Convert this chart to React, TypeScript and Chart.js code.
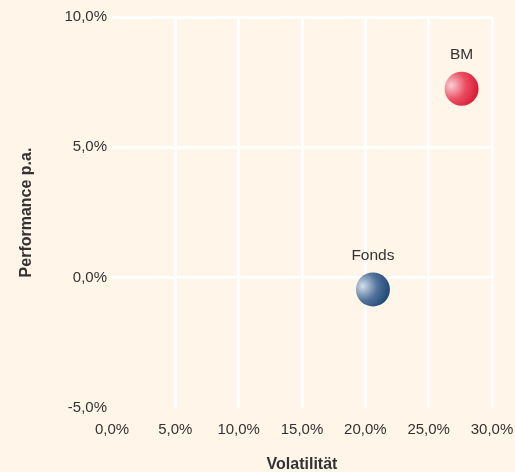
import React, { useEffect, useRef } from "react";
import { Chart, registerables } from "chart.js";

Chart.register(...registerables);

const seriesNames = ["Fonds", "BM"];
const volatility = [20.6, 27.6];
const performance = [-0.45, 7.25];
const xTickLabels = ["0,0%", "5,0%", "10,0%", "15,0%", "20,0%", "25,0%", "30,0%"];
const yTickLabels = ["-5,0%", "0,0%", "5,0%", "10,0%"];
const xTitle = "Volatilität";
const yTitle = "Performance p.a.";

const BG = "#FFF5E8";
const TEXT = "#333333";
const FONT = "'Liberation Sans', Arial, sans-serif";

const palettes = [
  { light: "#D3DEEA", mid: "#52739B", dark: "#234A78" },
  { light: "#F8D0D6", mid: "#EC4D61", dark: "#DA1F3A" },
];

const labelPlugin = {
  id: "bubbleLabels",
  afterDatasetsDraw(chart: any) {
    const ctx = chart.ctx;
    ctx.save();
    ctx.font = `15.5px ${FONT}`;
    ctx.fillStyle = TEXT;
    ctx.textAlign = "center";
    ctx.textBaseline = "middle";
    chart.data.datasets.forEach((ds: any, i: number) => {
      const meta = chart.getDatasetMeta(i);
      meta.data.forEach((el: any) => {
        ctx.fillText(ds.label, el.x, el.y - 34);
      });
    });
    ctx.restore();
  },
};

const bgPlugin = {
  id: "bg",
  beforeDraw(chart: any) {
    const ctx = chart.ctx;
    ctx.save();
    ctx.fillStyle = BG;
    ctx.fillRect(0, 0, chart.width, chart.height);
    ctx.restore();
  },
};

export default function App() {
  const ref = useRef<HTMLCanvasElement | null>(null);

  useEffect(() => {
    if (!ref.current) return;
    const R = 17;
    const datasets = seriesNames.map((name, i) => ({
      label: name,
      data: [{ x: volatility[i], y: performance[i] }],
      radius: R,
      hoverRadius: R,
      borderWidth: 0,
      hoverBorderWidth: 0,
      backgroundColor: (c: any) => {
        const chart = c.chart;
        const sx = chart.scales?.x;
        const sy = chart.scales?.y;
        const raw = c.raw;
        if (!sx || !sy || !raw) return palettes[i].dark;
        const px = sx.getPixelForValue(raw.x);
        const py = sy.getPixelForValue(raw.y);
        if (!Number.isFinite(px) || !Number.isFinite(py)) return palettes[i].dark;
        const gx = px - R * 0.6;
        const gy = py - R * 0.2;
        const g = chart.ctx.createRadialGradient(gx, gy, 0, gx, gy, R * 1.55);
        g.addColorStop(0, palettes[i].light);
        g.addColorStop(0.55, palettes[i].mid);
        g.addColorStop(1, palettes[i].dark);
        return g;
      },
    }));

    const chart = new Chart(ref.current, {
      type: "bubble",
      data: { datasets },
      plugins: [bgPlugin, labelPlugin],
      options: {
        animation: false,
        responsive: false,
        devicePixelRatio: 1,
        events: [],
        layout: { padding: { top: 16, right: 23, left: 0, bottom: 0 } },
        plugins: { legend: { display: false }, tooltip: { enabled: false } },
        scales: {
          x: {
            type: "linear",
            min: 0,
            max: 30,
            afterFit: (s: any) => {
              s.height = 64;
              s.paddingLeft = 0;
              s.paddingRight = 0;
            },
            border: { display: false },
            grid: {
              drawTicks: false,
              lineWidth: 3,
              color: (c: any) => (c.tick && c.tick.value === 0 ? "rgba(0,0,0,0)" : "#FFFFFF"),
            },
            ticks: {
              stepSize: 5,
              padding: 13,
              color: TEXT,
              font: { family: FONT, size: 15 },
              maxRotation: 0,
              callback: (_v: any, idx: number) => xTickLabels[idx],
            },
            title: {
              display: true,
              text: xTitle,
              color: TEXT,
              font: { family: FONT, size: 16, weight: "bold" },
              padding: { top: 0, bottom: -2 },
            },
          },
          y: {
            type: "linear",
            min: -5,
            max: 10,
            afterFit: (s: any) => {
              s.width = 112;
              s.paddingTop = 0;
              s.paddingBottom = 0;
            },
            border: { display: false },
            grid: {
              drawTicks: false,
              lineWidth: 3,
              color: (c: any) => (c.tick && c.tick.value === -5 ? "rgba(0,0,0,0)" : "#FFFFFF"),
            },
            ticks: {
              stepSize: 5,
              padding: 5,
              color: TEXT,
              font: { family: FONT, size: 15 },
              callback: (_v: any, idx: number) => yTickLabels[idx],
            },
            title: {
              display: true,
              text: yTitle,
              color: TEXT,
              font: { family: FONT, size: 16, weight: "bold" },
              padding: { top: 17, bottom: 0 },
            },
          },
        },
      },
    } as any);
    return () => chart.destroy();
  }, []);

  return (
    <div
      style={{
        position: "absolute",
        left: 0,
        top: 0,
        width: 515,
        height: 472,
        background: BG,
      }}
    >
      <canvas ref={ref} width={515} height={472} style={{ display: "block" }} />
    </div>
  );
}
